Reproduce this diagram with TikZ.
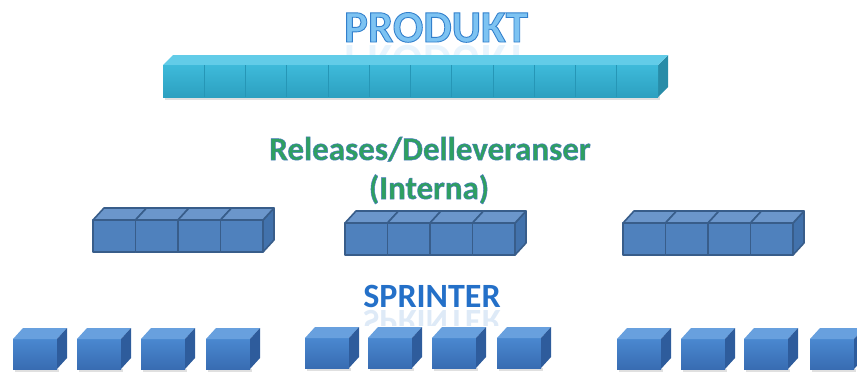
\documentclass[tikz,border=0pt]{standalone}
\usepackage{fontspec}
\setmainfont{Carlito}

\definecolor{prodtop}{RGB}{98,204,232}
\definecolor{prodfrontA}{RGB}{62,186,218}
\definecolor{prodfrontB}{RGB}{44,160,192}
\definecolor{prodside}{RGB}{40,140,168}
\definecolor{proddiv}{RGB}{38,150,182}
\definecolor{relfill}{RGB}{79,129,189}
\definecolor{reltop}{RGB}{107,150,203}
\definecolor{relside}{RGB}{66,114,172}
\definecolor{reledge}{RGB}{56,93,138}
\definecolor{sprA}{RGB}{74,136,208}
\definecolor{sprB}{RGB}{56,108,178}
\definecolor{sprtop}{RGB}{104,160,222}
\definecolor{sprside}{RGB}{46,92,156}
\definecolor{produkttxt}{RGB}{125,195,242}
\definecolor{reltxt}{RGB}{46,160,96}
\definecolor{sprtxt}{RGB}{36,112,200}

% outlined glyphs: fill with the text colour, stroke with the given RGB triple
\newcommand\outlinedtext[3]{%
  \special{pdf:code 2 Tr #1 RG #2 w}#3\special{pdf:code 0 Tr}}

% one sprint cube: front top-left corner (#1,#2)
\newcommand\sprintcube[2]{%
  \fill[black,opacity=0.12] (#1+2,#2+30) rectangle (#1+46,#2+33);
  \fill[top color=sprA,bottom color=sprB] (#1,#2) rectangle (#1+44,#2+30);
  \fill[sprtop] (#1,#2) -- (#1+10,#2-11) -- (#1+54,#2-11) -- (#1+44,#2) -- cycle;
  \fill[sprside] (#1+44,#2) -- (#1+54,#2-11) -- (#1+54,#2+19) -- (#1+44,#2+30) -- cycle;
}

% one release block of four cubes: front top-left corner (#1,#2)
\newcommand\releaseblock[2]{%
  \begin{scope}[draw=reledge,line width=1.6pt,line join=round]
    \filldraw[fill=relside] (#1+170,#2) -- (#1+181,#2-12) -- (#1+181,#2+20) -- (#1+170,#2+32) -- cycle;
    \foreach \k in {0,1,2,3}{
      \filldraw[fill=reltop] (#1+\k*42.5,#2) -- (#1+\k*42.5+11,#2-12) -- (#1+\k*42.5+53.5,#2-12) -- (#1+\k*42.5+42.5,#2) -- cycle;
      \filldraw[fill=relfill] (#1+\k*42.5,#2) rectangle (#1+\k*42.5+42.5,#2+32);
    }
  \end{scope}
}

\begin{document}
\begin{tikzpicture}[x=1pt,y=-1pt,
  bigtitle/.style={font=\bfseries\fontsize{45}{45}\selectfont,anchor=base,inner sep=0pt},
  midtitle/.style={font=\bfseries\fontsize{33}{33}\selectfont,anchor=base,inner sep=0pt},
  sprtitle/.style={font=\bfseries\fontsize{34}{34}\selectfont,anchor=base,inner sep=0pt}]
  \useasboundingbox (0,0) rectangle (857,376);

  % product title with faint, cut-off mirror image
  \begin{scope}
    \clip (300,44) rectangle (580,62);
    \node[bigtitle,yscale=-1,text=produkttxt,opacity=0.18] (produktmirror) at (436,45) {PRODUKT};
  \end{scope}
  \node[bigtitle,text=produkttxt] (produkt) at (436,42) {\outlinedtext{0.2 0.5 0.8}{0.9}{PRODUKT}};

  % product bar of twelve segments
  \fill[black,opacity=0.12] (165,96) rectangle (660,100);
  \fill[prodside] (658,65) -- (668,55) -- (668,87) -- (658,97) -- cycle;
  \fill[prodtop] (163,65) -- (173,55) -- (668,55) -- (658,65) -- cycle;
  \fill[top color=prodfrontA,bottom color=prodfrontB] (163,65) rectangle (658,97);
  \foreach \k in {1,...,11}{
    \draw[proddiv,line width=0.8pt] (163+\k*41.25,65) -- (163+\k*41.25,97);
  }

  % release heading
  \node[midtitle,text=reltxt] (releases) at (430,160) {\outlinedtext{0.3 0.48 0.76}{0.5}{Releases/Delleveranser}};
  \node[midtitle,text=reltxt] (interna) at (429,199) {\outlinedtext{0.3 0.48 0.76}{0.5}{(Interna)}};

  % three release blocks
  \releaseblock{93}{220}
  \releaseblock{345}{223}
  \releaseblock{623}{223}

  % sprint heading with faint, cut-off mirror image
  \begin{scope}
    \clip (340,309) rectangle (530,325);
    \node[sprtitle,yscale=-1,text=sprtxt,opacity=0.15] (sprmirror) at (432,310) {SPRINTER};
  \end{scope}
  \node[sprtitle,text=sprtxt] (sprinter) at (432,307) {SPRINTER};

  % twelve sprint cubes
  \foreach \x in {13,77,141,206}{\sprintcube{\x}{339}}
  \foreach \x in {305,368,432,497}{\sprintcube{\x}{338}}
  \foreach \x in {617,681,744,810}{\sprintcube{\x}{339}}
\end{tikzpicture}
\end{document}
